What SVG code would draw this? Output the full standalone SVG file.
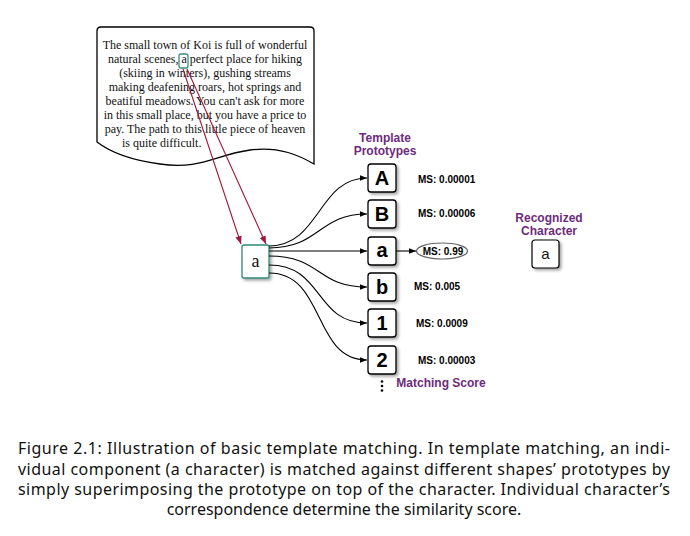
<svg xmlns="http://www.w3.org/2000/svg" width="690" height="536" viewBox="0 0 690 536">
<defs>
<marker id="arr" viewBox="0 0 10 10" refX="10" refY="5" markerWidth="7" markerHeight="7" markerUnits="userSpaceOnUse" orient="auto">
<path d="M0,1 L10,5 L0,9 Z" fill="#000"/>
</marker>
<marker id="arrR" viewBox="0 0 10 10" refX="10" refY="5" markerWidth="8" markerHeight="8" markerUnits="userSpaceOnUse" orient="auto">
<path d="M0,1 L10,5 L0,9 Z" fill="#a3173a"/>
</marker>
<filter id="sh" x="-30%" y="-30%" width="160%" height="160%">
<feGaussianBlur in="SourceAlpha" stdDeviation="1.5"/>
<feOffset dx="1.5" dy="2" result="b"/>
<feComponentTransfer><feFuncA type="linear" slope="0.35"/></feComponentTransfer>
<feMerge><feMergeNode/><feMergeNode in="SourceGraphic"/></feMerge>
</filter>
</defs>
<style>
.doc{font-family:"Liberation Serif",serif;font-size:12px;fill:#111}
.proto rect{fill:#fff;stroke:#000;stroke-width:1.3}
.proto text{font-family:"Liberation Sans",Arial,sans-serif;font-weight:bold;font-size:20px;text-anchor:middle;fill:#000}
.ms{font-family:"Liberation Sans",Arial,sans-serif;font-weight:bold;font-size:10px;fill:#000}
.ttl{font-family:"Liberation Sans",Arial,sans-serif;font-weight:bold;font-size:12px;fill:#6e2b7c;text-anchor:middle}
.cap{font-family:"Noto Sans",sans-serif;font-size:16px;fill:#111}
.conn path{fill:none;stroke:#000;stroke-width:1.1}
</style>

<g id="document">
<path d="M101,27 L310,27 Q314,27 314,31 L314,164 C300,156 280,146 250,150 C215,155 200,170 160,164 C130,160 110,152 97,142 L97,31 Q97,27 101,27 Z" fill="#fff" stroke="#000" stroke-width="1.3"/>
<g class="doc" text-anchor="middle">
<text x="205" y="49">The small town of Koi is full of wonderful</text>
<text x="205" y="63">natural scenes, a perfect place for hiking</text>
<text x="205" y="77">(skiing in winters), gushing streams</text>
<text x="205" y="91">making deafening roars, hot springs and</text>
<text x="205" y="105">beatiful meadows. You can't ask for more</text>
<text x="205" y="119">in this small place, but you have a price to</text>
<text x="205" y="133">pay. The path to this little piece of heaven</text>
<text x="122" y="147" text-anchor="start">is quite difficult.</text>
</g>
<rect x="179" y="54" width="9" height="14" rx="2" fill="none" stroke="#3a8f7f" stroke-width="1.3"/>
</g>

<g id="input-node">
<rect x="242" y="245" width="27" height="33" rx="2" fill="#fff" stroke="#2e8b75" stroke-width="1.3" filter="url(#sh)"/>
<text x="255.5" y="267" font-family="Liberation Serif,serif" font-size="18" text-anchor="middle" fill="#111">a</text>
</g>

<g id="title-template">
<text class="ttl" x="385" y="142">Template</text>
<text class="ttl" x="385" y="155">Prototypes</text>
</g>

<g id="proto-A" class="proto"><rect x="368" y="164" width="28" height="28" rx="3" filter="url(#sh)"/><text x="382" y="185">A</text></g>
<g id="proto-B" class="proto"><rect x="368" y="200" width="28" height="28" rx="3" filter="url(#sh)"/><text x="382" y="221">B</text></g>
<g id="proto-a" class="proto"><rect x="368" y="237" width="28" height="28" rx="3" filter="url(#sh)"/><text x="382" y="257" font-size="18px">a</text></g>
<g id="proto-b" class="proto"><rect x="368" y="273" width="28" height="28" rx="3" filter="url(#sh)"/><text x="382" y="294">b</text></g>
<g id="proto-1" class="proto"><rect x="368" y="309" width="28" height="28" rx="3" filter="url(#sh)"/><text x="382" y="330">1</text></g>
<g id="proto-2" class="proto"><rect x="368" y="346" width="28" height="28" rx="3" filter="url(#sh)"/><text x="382" y="367">2</text></g>

<g id="scores">
<text class="ms" x="418" y="183">MS: 0.00001</text>
<text class="ms" x="418" y="217">MS: 0.00006</text>
<text class="ms" x="414" y="290">MS: 0.005</text>
<text class="ms" x="416" y="327">MS: 0.0009</text>
<text class="ms" x="418" y="364">MS: 0.00003</text>
</g>

<g id="best-score">
<ellipse cx="442" cy="251" rx="25.5" ry="8" fill="#fff" stroke="#666" stroke-width="1.2"/>
<text class="ms" x="443" y="254.5" text-anchor="middle" font-size="9.5px">MS: 0.99</text>
</g>

<g id="more">
<circle cx="382" cy="381.5" r="1.3" fill="#000"/>
<circle cx="382" cy="386" r="1.3" fill="#000"/>
<circle cx="382" cy="390.5" r="1.3" fill="#000"/>
<text class="ttl" x="441" y="387">Matching Score</text>
</g>

<g id="recognized">
<text class="ttl" x="549" y="222">Recognized</text>
<text class="ttl" x="549" y="235">Character</text>
<rect x="532" y="240" width="27" height="28" rx="3" fill="#fff" stroke="#000" stroke-width="1.2" filter="url(#sh)"/>
<text x="545.5" y="259" font-family="Liberation Sans,Arial,sans-serif" font-size="15" text-anchor="middle" fill="#111">a</text>
</g>

<g id="connectors" class="conn">
<path d="M183,69 L241,244" style="stroke:#a3173a" marker-end="url(#arrR)"/>
<path d="M187,69 L266,244" style="stroke:#a3173a" marker-end="url(#arrR)"/>
<path d="M269,246 C320,246 318,178 367,178" marker-end="url(#arr)"/>
<path d="M269,248 C320,248 318,214 367,214" marker-end="url(#arr)"/>
<path d="M269,251 L367,251" marker-end="url(#arr)"/>
<path d="M269,256 C322,256 316,287 367,287" marker-end="url(#arr)"/>
<path d="M269,265 C324,265 314,323 367,323" marker-end="url(#arr)"/>
<path d="M269,273 C326,273 312,360 367,360" marker-end="url(#arr)"/>
<path d="M396,251 L416,251" marker-end="url(#arr)"/>
</g>

<g id="caption" class="cap" xml:space="preserve">
<text x="18" y="454" textLength="652" lengthAdjust="spacing">Figure 2.1:  Illustration of basic template matching.  In template matching, an indi-</text>
<text x="18" y="475" textLength="652" lengthAdjust="spacing">vidual component (a character) is matched against different shapes’ prototypes by</text>
<text x="18" y="495" textLength="652" lengthAdjust="spacing">simply superimposing the prototype on top of the character.  Individual character’s</text>
<text x="344" y="515" text-anchor="middle">correspondence determine the similarity score.</text>
</g>
</svg>
